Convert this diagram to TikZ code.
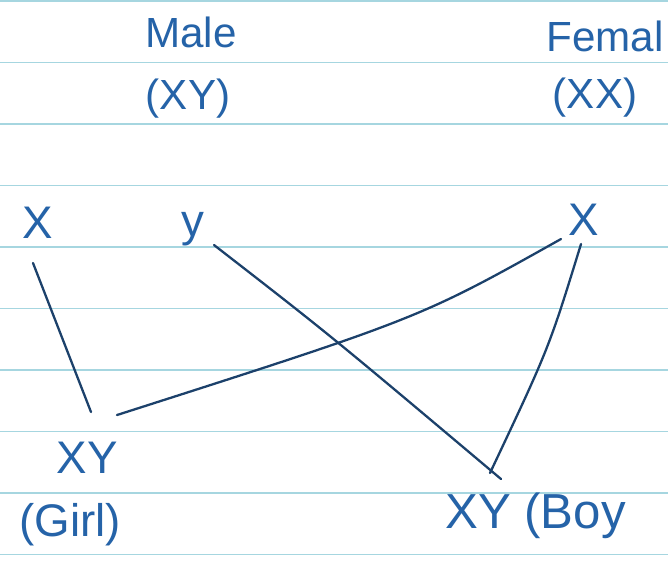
\documentclass[tikz,border=0pt]{standalone}
\usepackage{fontspec}
\setmainfont{Liberation Sans}
\definecolor{ink}{HTML}{2563A8}
\definecolor{pen}{HTML}{1C416B}
\definecolor{rule}{HTML}{A6D6E0}
\begin{document}
\begin{tikzpicture}[x=0.02cm,y=-0.02cm,
  lbl/.style={text=ink,inner sep=0pt,font=\fontsize{24}{28}\selectfont},
  big/.style={text=ink,inner sep=0pt,font=\fontsize{26}{30}\selectfont},
  link/.style={draw=pen,line width=1.3pt,line cap=round},
  ruling/.style={draw=rule,line width=0.9pt}]
\useasboundingbox[fill=white] (0,0) rectangle (668,576);
% ruled paper
\foreach \k in {0,...,9}{
  \draw[ruling] (0,{1+61.5*\k}) -- (668,{1+61.5*\k});
}
% texts
\node[lbl] (male) at (191,32) {Male};
\node[lbl] (malegt) at (188,99) {(XY)};
\node[lbl] (female) at (605,36) {Femal};
\node[lbl] (femalegt) at (595,98) {(XX)};
\node[big] (mx) at (38,223) {X};
\node[big] (my) at (193,229) {y};
\node[big] (fx) at (584,220) {X};
\node[big] (girl) at (87,458) {XY};
\node[big] (girllbl) at (70,525) {(Girl)};
\node[text=ink,inner sep=0pt,font=\fontsize{28}{32}\selectfont, anchor=west] (boy) at (445,516) {XY (Boy};
% connector end points
\coordinate (mxs) at (33,263);
\coordinate (girln) at (91,412);
\coordinate (girlne) at (117,415);
\coordinate (fxsw) at (561,239);
\coordinate (mys) at (214,245);
\coordinate (boyn) at (501,479);
\coordinate (fxs) at (581,244);
\coordinate (boynw) at (490,473);
% connectors
\draw[link] (mxs) -- (girln);
\draw[link] (girlne) .. controls (420,318) .. (fxsw);
\draw[link] (mys) .. controls (330,335) .. (boyn);
\draw[link] (fxs) .. controls (549,348) .. (boynw);
\end{tikzpicture}
\end{document}
